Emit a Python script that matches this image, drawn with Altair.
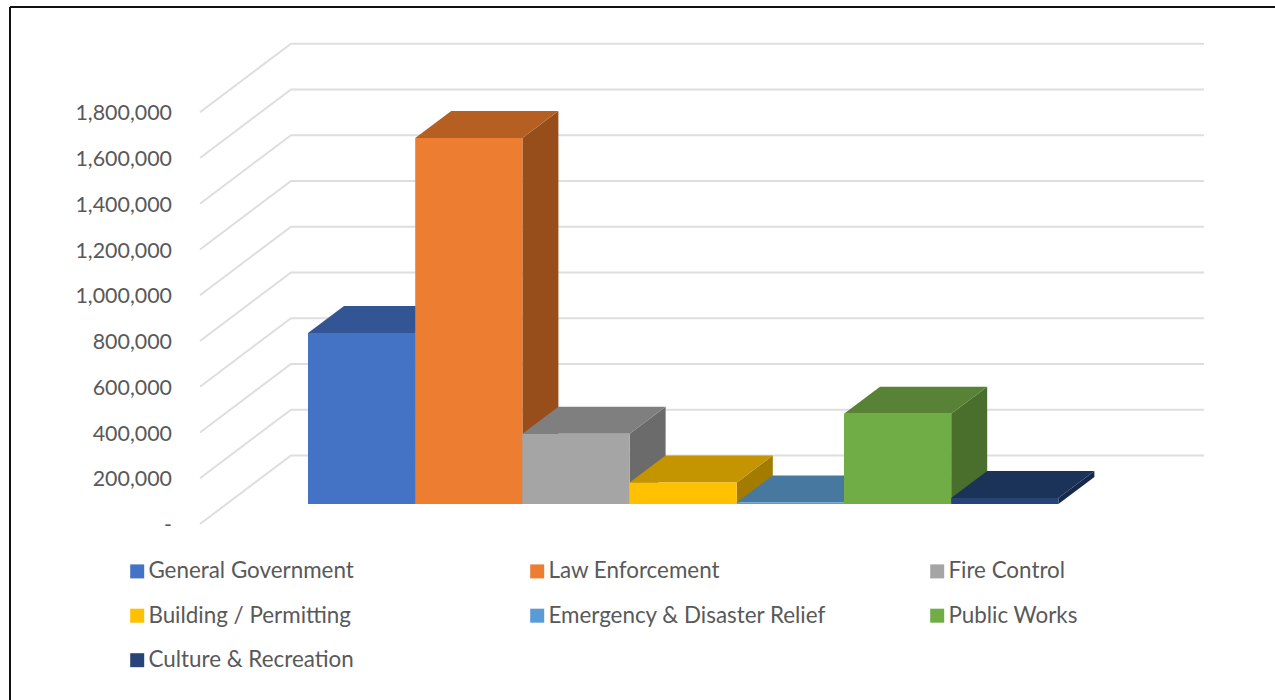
import altair as alt
import pandas as pd

# Spending by department
categories = ["General Government", "Law Enforcement", "Fire Control", "Building / Permitting",
              "Emergency & Disaster Relief", "Public Works", "Culture & Recreation"]
values = [748000, 1600000, 307000, 94000, 7000, 394000, 26000]
front_colors = ["#4472C4", "#ED7D31", "#A5A5A5", "#FFC000", "#5B9BD5", "#70AD47", "#264478"]
top_colors = ["#335593", "#B65F23", "#7F7F7F", "#C49500", "#47789F", "#588235", "#1B3358"]
side_colors = ["#2A4A82", "#974E1B", "#6B6B6B", "#A37B00", "#3C6587", "#4A6E2B", "#152A4A"]
grid_levels = [0, 200000, 400000, 600000, 800000, 1000000, 1200000, 1400000, 1600000, 1800000]

W, H = 1275, 700
TEXT = "#595959"
FONT = "Lato"

# Oblique projection: x is in bar widths, y in currency.
SLOT_PX = 107.2
VALUE_PER_PX = 200000 / 45.75
x_scale = alt.Scale(domain=[-308 / SLOT_PX, (W - 308) / SLOT_PX], nice=False, zero=False)
y_scale = alt.Scale(domain=[-(H - 524) * VALUE_PER_PX, 524 * VALUE_PER_PX], nice=False, zero=False)

FLOOR = 20 * VALUE_PER_PX      # rise from the front edge of the floor to the bars
BAR_RISE = 27 * VALUE_PER_PX   # rise of a bar's depth
BAR_RUN = 36 / SLOT_PX         # run of a bar's depth
WALL_RISE = 68.5 * VALUE_PER_PX
WALL_LEFT = -108 / SLOT_PX
WALL_BACK = -17 / SLOT_PX
WALL_RIGHT = 896 / SLOT_PX

X = alt.X("x:Q", scale=x_scale, axis=None)
Y = alt.Y(
    "y:Q",
    scale=y_scale,
    axis=alt.Axis(
        values=grid_levels,
        orient="left",
        offset=-171.5,
        domain=False,
        ticks=False,
        grid=False,
        title=None,
        labelPadding=0,
        labelFont=FONT,
        labelFontSize=21.4,
        labelColor=TEXT,
        labelOffset=1.5,
        labelExpr="datum.value === 0 ? '-' : format(datum.value, ',')",
    ),
)

# Floor and wall gridlines; the value axis sits on the front edge of the floor.
grid_rows = []
for level in grid_levels:
    grid_rows += [
        {"level": level, "x": WALL_LEFT, "y": level},
        {"level": level, "x": WALL_BACK, "y": level + WALL_RISE},
        {"level": level, "x": WALL_RIGHT, "y": level + WALL_RISE},
    ]
grid = alt.Chart(pd.DataFrame(grid_rows)).mark_line(color="#DEDEDE", strokeWidth=2).encode(
    x=X, y=Y, detail="level:N"
)

# Each bar is a side face, a top face and a front face, painted left to right.
bar_layers = []
for i, (name, value) in enumerate(zip(categories, values)):
    left, right = i, i + 1
    base = FLOOR
    top = FLOOR + value
    side = pd.DataFrame({
        "x": [right, right + BAR_RUN],
        "y": [top, top + BAR_RISE],
        "y0": [base, base + BAR_RISE],
    })
    cap = pd.DataFrame({
        "x": [left, left + BAR_RUN, right, right + BAR_RUN],
        "y": [top, top + BAR_RISE, top + BAR_RISE, top + BAR_RISE],
        "y0": [top, top, top, top + BAR_RISE],
    })
    front = pd.DataFrame({
        "name": [name], "x": [left], "x2": [right], "y": [top], "y0": [base],
    })
    bar_layers.append(
        alt.Chart(side).mark_area(color=side_colors[i], interpolate="linear").encode(
            x=X, y=Y, y2="y0:Q"
        )
    )
    bar_layers.append(
        alt.Chart(cap).mark_area(color=top_colors[i], interpolate="linear").encode(
            x=X, y=Y, y2="y0:Q"
        )
    )
    bar_layers.append(
        alt.Chart(front).mark_rect().encode(
            x=X,
            x2="x2:Q",
            y=Y,
            y2="y0:Q",
            color=alt.Color(
                "name:N",
                sort=categories,
                scale=alt.Scale(domain=categories, range=front_colors),
                legend=alt.Legend(
                    orient="none",
                    direction="horizontal",
                    legendX=126,
                    legendY=560,
                    columns=3,
                    title=None,
                    symbolType="square",
                    symbolSize=196,
                    symbolStrokeWidth=0,
                    labelFont=FONT,
                    labelFontSize=22.4,
                    labelColor=TEXT,
                    labelOffset=0,
                    labelLimit=400,
                    gridAlign="all",
                    columnPadding=99,
                    rowPadding=21.5,
                ),
            ),
        )
    )

# Chart frame: the left and top edges run out to the window bounds.
frame_left = alt.Chart(pd.DataFrame({"k": [0]})).mark_rule(color="#111111", strokeWidth=2).encode(
    x=alt.value(10), y=alt.value(7), y2=alt.value(H)
)
frame_top = alt.Chart(pd.DataFrame({"k": [0]})).mark_rule(color="#111111", strokeWidth=2).encode(
    x=alt.value(10), x2=alt.value(W), y=alt.value(7)
)

chart = alt.layer(frame_left, frame_top, grid, *bar_layers).resolve_scale(
    color="shared"
).properties(
    width=W,
    height=H,
    padding=0,
    autosize=alt.AutoSizeParams(type="none"),
    background="white",
).configure_view(stroke=None)

chart.save("out.html", embed_options={"renderer": "svg", "actions": False})
